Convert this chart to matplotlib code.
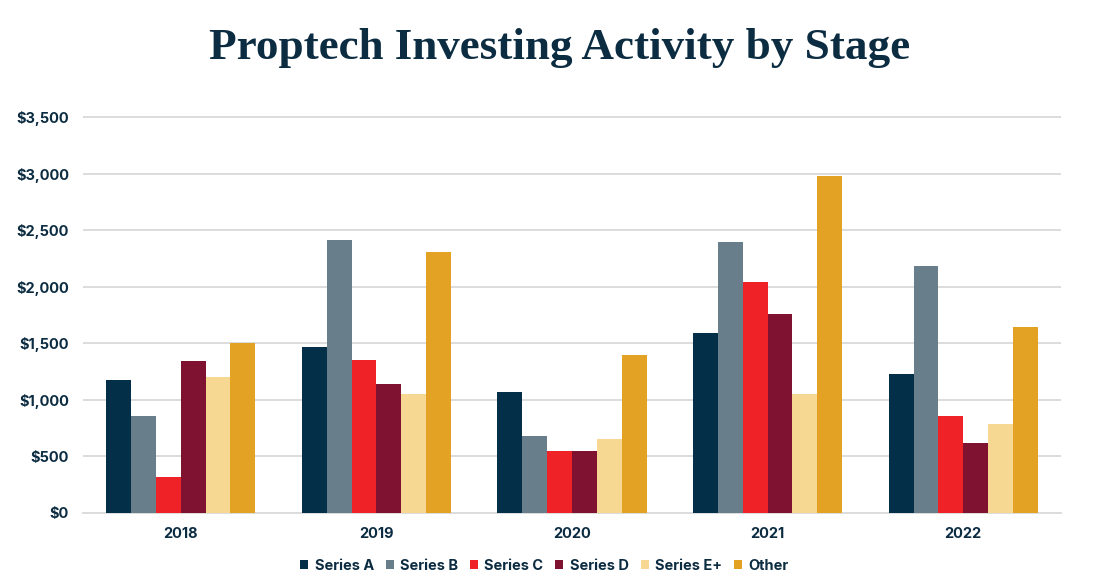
import numpy as np
import matplotlib.pyplot as plt

# Data ($M)
YEARS = ['2018', '2019', '2020', '2021', '2022']
STAGES = ['Series A', 'Series B', 'Series C', 'Series D', 'Series E+', 'Other']
SERIES_A = [1175, 1462, 1067, 1589, 1224]
SERIES_B = [858, 2415, 681, 2391, 2179]
SERIES_C = [318, 1348, 548, 2040, 858]
SERIES_D = [1339, 1135, 548, 1760, 613]
SERIES_E = [1197, 1053, 655, 1047, 781]
OTHER = [1504, 2306, 1395, 2978, 1639]
COLORS = ['#033048', '#687f8b', '#ee2227', '#7f1131', '#f6d892', '#e4a224']
TEXT = '#0c2c42'

values = [SERIES_A, SERIES_B, SERIES_C, SERIES_D, SERIES_E, OTHER]

fig = plt.figure(figsize=(11.2, 5.88), dpi=100)
ax = fig.add_axes([83 / 1120, 1 - 512.7 / 588, 978 / 1120, 420 / 588])

x = np.arange(len(YEARS))
width = 0.127
for i in range(len(STAGES)):
    ax.bar(x + (i - 2.5) * width, values[i], width, color=COLORS[i],
           label=STAGES[i], zorder=3)

ax.set_xlim(-0.5, 4.5)
ax.set_ylim(0, 3500 * 420 / 395.7)
ax.set_yticks(np.arange(0, 3501, 500))
ax.set_yticklabels(['${:,}'.format(v) for v in range(0, 3501, 500)])
ax.set_xticks(x)
ax.set_xticklabels(YEARS)
ax.grid(axis='y', color='#dcdcdc', linewidth=1.4, zorder=0)
for s in ['top', 'right', 'left']:
    ax.spines[s].set_visible(False)
ax.spines['bottom'].set_color('#dcdcdc')
ax.spines['bottom'].set_linewidth(1.4)
ax.tick_params(length=0, pad=10, labelsize=10.5, labelcolor=TEXT)
for lab in ax.get_xticklabels() + ax.get_yticklabels():
    lab.set_fontfamily('Inter')
    lab.set_fontweight('bold')

fig.text(0.5, 1 - 48 / 588, 'Proptech Investing Activity by Stage',
         ha='center', va='center', fontsize=32.5, fontweight='bold',
         family='Liberation Serif', color=TEXT)

leg = fig.legend(loc='center', bbox_to_anchor=(0.486, 1 - 566 / 588), ncol=6,
                 frameon=False, handlelength=0.55, handleheight=0.55,
                 handletextpad=0.45, columnspacing=0.8,
                 prop={'family': 'Inter', 'weight': 'bold', 'size': 10.5})
for t in leg.get_texts():
    t.set_color(TEXT)

fig.savefig('out.png', dpi=100)
